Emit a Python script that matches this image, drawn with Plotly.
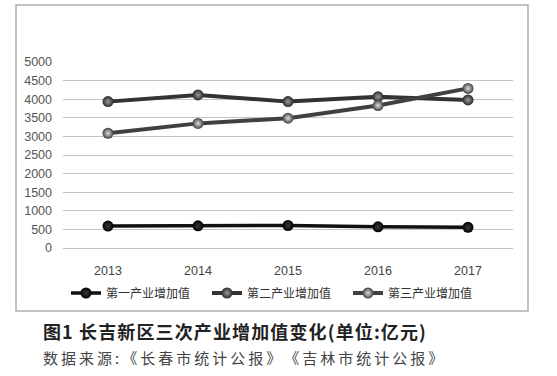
import plotly.graph_objects as go

years = ["2013", "2014", "2015", "2016", "2017"]
primary = [590, 595, 605, 570, 555]
secondary = [3935, 4115, 3935, 4065, 3980]
tertiary = [3085, 3350, 3490, 3830, 4290]
series_names = ["第一产业增加值", "第二产业增加值", "第三产业增加值"]
y_ticks = [0, 500, 1000, 1500, 2000, 2500, 3000, 3500, 4000, 4500, 5000]
title_text = "图1 长吉新区三次产业增加值变化(单位:亿元)"
source_text = "数据来源:《长春市统计公报》《吉林市统计公报》"

W, H = 557, 376
L, R, T, B = 63, 513, 62, 248  # plot area in px


def px_x(px):
    return (px - L) / (R - L)


def px_y(py):
    return (B - py) / (B - T)


def spaced(s, sp="\u2009"):
    return sp.join(list(s))


fig = go.Figure()
fig.add_trace(go.Scatter(
    x=years, y=primary, name=series_names[0], mode="lines+markers",
    line=dict(color="#111111", width=3.5),
    marker=dict(size=11, color="#000000",
                gradient=dict(type="radial", color="#3a3a3a")),
))
fig.add_trace(go.Scatter(
    x=years, y=secondary, name=series_names[1], mode="lines+markers",
    line=dict(color="#333333", width=4),
    marker=dict(size=11, color="#2a2a2a",
                gradient=dict(type="radial", color="#9a9a9a")),
))
fig.add_trace(go.Scatter(
    x=years, y=tertiary, name=series_names[2], mode="lines+markers",
    line=dict(color="#404040", width=4),
    marker=dict(size=11, color="#404040",
                gradient=dict(type="radial", color="#e0e0e0")),
))

fig.update_layout(
    width=W, height=H,
    margin=dict(l=L, r=W - R, t=T, b=H - B),
    paper_bgcolor="white", plot_bgcolor="white",
    showlegend=True,
    legend=dict(orientation="h", x=px_x(66), xanchor="left",
                y=px_y(293), yanchor="middle",
                font=dict(family="Noto Sans CJK SC", size=12, color="#333333"),
                entrywidth=96, itemwidth=30,
                bgcolor="rgba(0,0,0,0)"),
    font=dict(family="Liberation Sans", size=12, color="#555555"),
    xaxis=dict(type="category", range=[-0.5, 4.5], showgrid=False,
               showline=False, zeroline=False, ticks="",
               ticklabelstandoff=13,
               tickfont=dict(family="Liberation Sans", size=12.5, color="#444444")),
    yaxis=dict(range=[0, 5000], tickvals=y_ticks, showgrid=True,
               gridcolor="#c4c4c4", gridwidth=1, zeroline=True,
               zerolinecolor="#c4c4c4", zerolinewidth=1, showline=False,
               ticks="", ticklabelstandoff=10,
               tickfont=dict(family="Liberation Sans", size=12.5, color="#555555")),
    shapes=[dict(type="rect", xref="paper", yref="paper",
                 x0=px_x(16), x1=px_x(528), y0=px_y(311), y1=px_y(5),
                 line=dict(color="#b0b0b0", width=1.5), layer="below")],
    annotations=[
        dict(text="<b>" + spaced(title_text, "\u200a") + "</b>",
             xref="paper", yref="paper", x=px_x(41), y=px_y(331),
             xanchor="left", yanchor="middle", showarrow=False,
             font=dict(family="Noto Sans CJK SC", size=18, color="#222222")),
        dict(text=spaced(source_text),
             xref="paper", yref="paper", x=px_x(41), y=px_y(357),
             xanchor="left", yanchor="middle", showarrow=False,
             font=dict(family="Noto Sans CJK SC", size=15, color="#444444")),
    ],
)

fig.write_html("out.html", config={"displayModeBar": False},
               post_script="document.body.style.margin='0';document.body.style.overflow='hidden';")
